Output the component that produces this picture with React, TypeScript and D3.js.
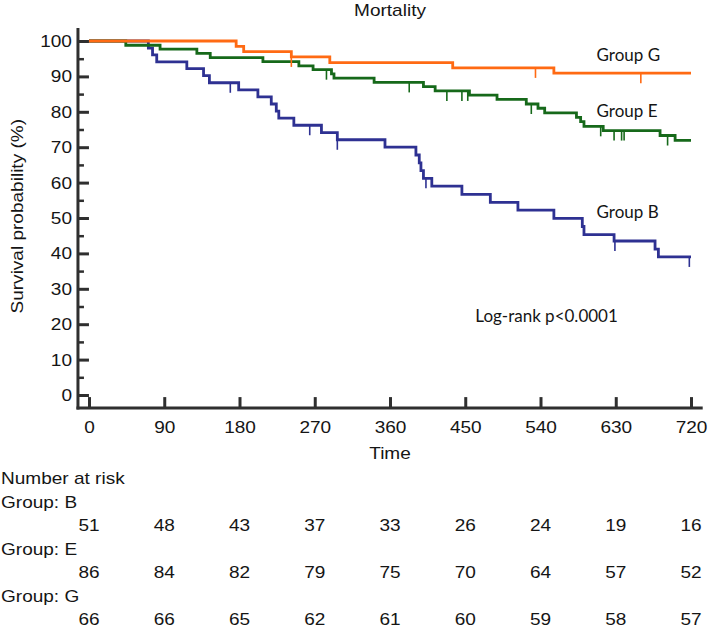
import React, { useEffect, useRef } from 'react';
import * as d3 from 'd3';

// ---------------- data ----------------
const timeTicks = [0, 90, 180, 270, 360, 450, 540, 630, 720];
const survTicks = [0, 10, 20, 30, 40, 50, 60, 70, 80, 90, 100];
const survMinorTicks = [5, 15, 25, 35, 45, 55, 65, 75, 85, 95];
const followUpEnd = 720;

const groupNames = ['B', 'E', 'G'];
const groupColors = ['#2e3192', '#16691a', '#ff6a13'];

// Group B
const timeB = [0, 71, 76, 81, 117, 137, 144, 179, 202, 218, 224, 227, 245, 278, 297, 354, 391, 395, 397, 400, 410, 446, 480, 513, 556, 590, 592, 628, 677, 681];
const survB = [100, 98.0, 96.1, 94.1, 92.2, 90.2, 88.2, 86.2, 84.2, 82.2, 80.2, 78.2, 76.2, 74.1, 72.1, 70.0, 67.8, 65.6, 63.4, 61.2, 59.0, 56.7, 54.4, 52.2, 49.9, 47.6, 45.3, 43.5, 41.2, 39.0];
const censorTimeB = [169, 264, 297, 403, 629, 718];
const censorSurvB = [88.2, 76.2, 72.1, 61.2, 43.5, 39.0];

// Group E
const timeE = [0, 44, 85, 129, 145, 208, 251, 268, 290, 293, 341, 400, 414, 455, 488, 523, 537, 545, 583, 588, 592, 615, 683, 701];
const survE = [100, 98.8, 97.7, 96.5, 95.3, 94.2, 93.0, 91.9, 90.7, 89.5, 88.3, 87.1, 85.9, 84.7, 83.5, 82.2, 81.0, 79.7, 78.4, 77.2, 75.9, 74.7, 73.3, 71.9];
const censorTimeE = [284, 383, 428, 446, 453, 529, 612, 628, 637, 640, 692];
const censorSurvE = [91.9, 88.3, 85.9, 85.9, 85.9, 82.2, 75.9, 74.7, 74.7, 74.7, 73.3];

// Group G
const timeG = [0, 176, 185, 242, 288, 435, 556];
const survG = [100, 98.5, 97.0, 95.5, 93.9, 92.4, 90.9];
const censorTimeG = [242, 534, 660];
const censorSurvG = [95.5, 92.4, 90.9];

// number at risk
const riskB = [51, 48, 43, 37, 33, 26, 24, 19, 16];
const riskE = [86, 84, 82, 79, 75, 70, 64, 57, 52];
const riskG = [66, 66, 65, 62, 61, 60, 59, 58, 57];

// in-plot annotations
const labelTime = 607;
const labelSurv = [50.0, 78.5, 94.4];
const pValueText = 'Log-rank p<0.0001';
const pValueTime = 462;
const pValueSurv = 20.6;

export default function App() {
  const ref = useRef<SVGSVGElement>(null);
  const width = 709;
  const height = 628;

  useEffect(() => {
    const svg = d3.select(ref.current);
    svg.selectAll('*').remove();

    const axisColor = '#2f2f2f';
    const textColor = '#151515';
    const sansFont = '"Liberation Sans", Arial, sans-serif';
    const labelFont = 'Lato, "Open Sans", sans-serif';
    const sx = 1.12; // the figure's Arial text is slightly wide

    const addText = (x: number, y: number, txt: string, anchor = 'start', rotate = 0) =>
      svg.append('text')
        .attr('transform', `translate(${x},${y}) rotate(${rotate}) scale(${sx},1)`)
        .attr('text-anchor', anchor)
        .attr('font-family', sansFont)
        .attr('font-size', 17)
        .attr('fill', textColor)
        .text(txt);

    // ------------ scales ------------
    const xScale = d3.scaleLinear().domain([0, 720]).range([89, 691]);
    const yScale = d3.scaleLinear().domain([0, 100]).range([395, 41]);
    const xAxisY = yScale(-3.7);
    const yAxisX = xScale(-13.2);

    // ------------ axes ------------
    const yAxis = svg.append('g')
      .attr('transform', `translate(${yAxisX},0)`)
      .call(d3.axisLeft(yScale).tickValues(survTicks).tickSize(-11).tickSizeOuter(0).tickPadding(6));
    const yMinor = svg.append('g')
      .attr('transform', `translate(${yAxisX},0)`)
      .call(d3.axisLeft(yScale).tickValues(survMinorTicks).tickSize(-6).tickSizeOuter(0).tickFormat(() => ''));
    const xAxis = svg.append('g')
      .attr('transform', `translate(0,${xAxisY})`)
      .call(d3.axisBottom(xScale).tickValues(timeTicks).tickSize(-11).tickSizeOuter(0).tickPadding(13));

    [yAxis, yMinor, xAxis].forEach((g) => g.select('.domain').remove());
    yAxis.selectAll('.tick line').attr('stroke', axisColor).attr('stroke-width', 3);
    yMinor.selectAll('.tick line').attr('stroke', axisColor).attr('stroke-width', 2.5);
    xAxis.selectAll('.tick line').attr('stroke', axisColor).attr('stroke-width', 3);

    yAxis.selectAll('.tick text')
      .attr('x', -6 / sx)
      .attr('transform', `scale(${sx},1)`)
      .attr('font-family', sansFont)
      .attr('font-size', 17)
      .attr('fill', textColor);
    xAxis.selectAll('.tick text')
      .attr('transform', `scale(${sx},1)`)
      .attr('font-family', sansFont)
      .attr('font-size', 17)
      .attr('fill', textColor);

    // axis lines
    svg.append('line')
      .attr('x1', yAxisX).attr('x2', yAxisX)
      .attr('y1', yScale(103.7)).attr('y2', xAxisY + 1.5)
      .attr('stroke', axisColor).attr('stroke-width', 3);
    svg.append('line')
      .attr('x1', yAxisX - 1.5).attr('x2', xScale(734))
      .attr('y1', xAxisY).attr('y2', xAxisY)
      .attr('stroke', axisColor).attr('stroke-width', 3);

    // ------------ titles ------------
    addText(xScale(360), 16, 'Mortality', 'middle');
    addText(xScale(360), 459, 'Time', 'middle');
    addText(23, yScale(50.5), 'Survival probability (%)', 'middle', -90);

    // ------------ curves ------------
    const series = [
      { times: timeB, surv: survB, ct: censorTimeB, cs: censorSurvB },
      { times: timeE, surv: survE, ct: censorTimeE, cs: censorSurvE },
      { times: timeG, surv: survG, ct: censorTimeG, cs: censorSurvG },
    ];

    const line = d3.line<[number, number]>()
      .x((d) => xScale(d[0]))
      .y((d) => yScale(d[1]))
      .curve(d3.curveStepAfter);

    series.forEach((s, i) => {
      const pts: [number, number][] = s.times.map((t, j) => [t, s.surv[j]]);
      pts.push([followUpEnd, s.surv[s.surv.length - 1]]);
      const g = svg.append('g');
      g.append('path')
        .datum(pts)
        .attr('d', line)
        .attr('fill', 'none')
        .attr('stroke', groupColors[i])
        .attr('stroke-width', 2.8);
      g.selectAll('line.censor')
        .data(s.ct)
        .join('line')
        .attr('class', 'censor')
        .attr('x1', (d) => xScale(d))
        .attr('x2', (d) => xScale(d))
        .attr('y1', (d, j) => yScale(s.cs[j]))
        .attr('y2', (d, j) => yScale(s.cs[j]) + 10)
        .attr('stroke', groupColors[i])
        .attr('stroke-width', 1.6);
    });

    // ------------ annotations ------------
    groupNames.forEach((name, i) => {
      svg.append('text')
        .attr('x', xScale(labelTime))
        .attr('y', yScale(labelSurv[i]))
        .attr('font-family', labelFont)
        .attr('font-size', 17)
        .attr('fill', textColor)
        .text(`Group ${name}`);
    });
    svg.append('text')
      .attr('x', xScale(pValueTime))
      .attr('y', yScale(pValueSurv))
      .attr('font-family', labelFont)
      .attr('font-size', 17)
      .attr('fill', textColor)
      .text(pValueText);

    // ------------ number at risk ------------
    const tableTop = 484;
    const rowStep = 23.5;
    addText(1, tableTop, 'Number at risk');
    [riskB, riskE, riskG].forEach((risk, i) => {
      const y = tableTop + rowStep * (1 + i * 2);
      addText(1, y, `Group: ${groupNames[i]}`);
      risk.forEach((n, j) => {
        addText(xScale(timeTicks[j]), y + rowStep, String(n), 'middle');
      });
    });
  }, []);

  return (
    <svg
      ref={ref}
      width={width}
      height={height}
      style={{ position: 'absolute', left: 0, top: 0, background: '#fff' }}
    />
  );
}
